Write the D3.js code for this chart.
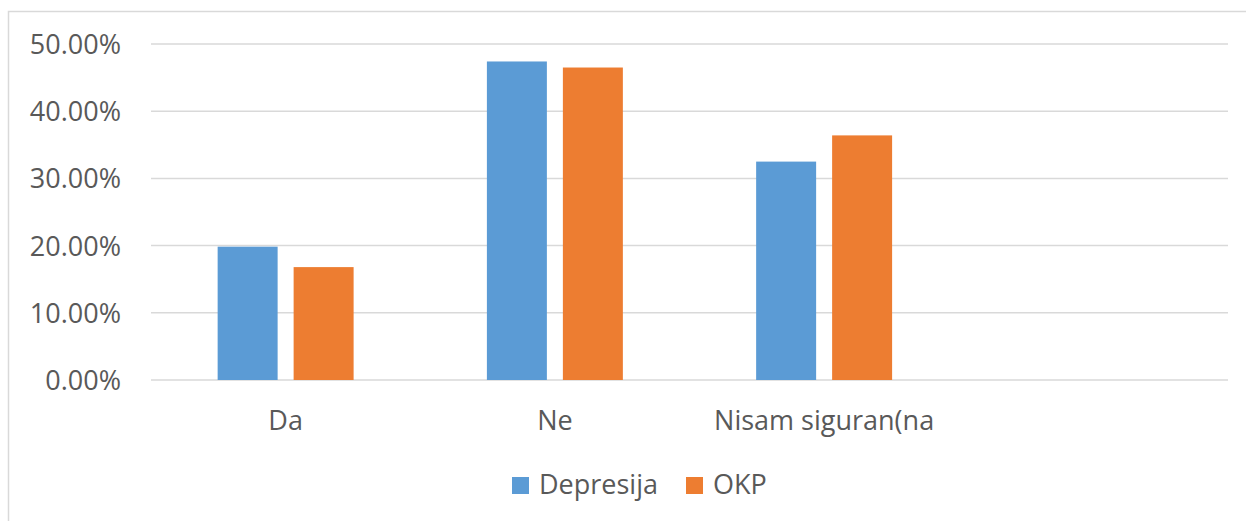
<!DOCTYPE html>
<html>
<head>
<meta charset="utf-8">
<script src="https://cdn.jsdelivr.net/npm/d3@7"></script>
<style>
  body { margin: 0; background: #fff; }
  text { font-family: "Open Sans", sans-serif; fill: #595959; }
</style>
</head>
<body>
<div class="chart"></div>
<script>
const width = 1246,
      height = 521;

// data
const categories = ["Da", "Ne", "Nisam siguran(na", ""];
const seriesNames = ["Depresija", "OKP"];
const depresija = [0.1984, 0.474, 0.325, null];
const okp = [0.168, 0.465, 0.364, null];
const yTicks = [0, 0.1, 0.2, 0.3, 0.4, 0.5];
const colors = ["#5b9bd5", "#ed7d31"];

const values = [depresija, okp];

const svg = d3.select(".chart")
              .append("svg")
              .attr("width", width)
              .attr("height", height);

// chart frame
svg.append("rect")
   .attr("x", 8.5).attr("y", 11.5)
   .attr("width", 1250).attr("height", 520)
   .attr("fill", "none")
   .attr("stroke", "#d9d9d9")
   .attr("stroke-width", 1.5);

const x = d3.scaleBand()
            .domain(categories)
            .range([151, 1228])
            .paddingInner(0.495)
            .paddingOuter(0.2475);

const xs = d3.scaleBand()
             .domain(seriesNames)
             .range([0, x.bandwidth()])
             .paddingInner(16 / 76);

const y = d3.scaleLinear()
            .domain([0, 0.5])
            .range([380, 44]);

// gridlines
svg.append("g").selectAll("line")
   .data(yTicks)
   .enter().append("line")
   .attr("x1", 151).attr("x2", 1228)
   .attr("y1", d => y(d)).attr("y2", d => y(d))
   .attr("stroke", "#d9d9d9")
   .attr("stroke-width", 1.5);

// y labels
svg.append("g").selectAll("text")
   .data(yTicks)
   .enter().append("text")
   .attr("x", 121)
   .attr("y", d => y(d) + 10)
   .attr("text-anchor", "end")
   .style("font-size", "27px")
   .text(d => d3.format(".2%")(d));

// bars
seriesNames.forEach(function(s, i) {
    svg.append("g").selectAll("rect")
       .data(categories.map((c, j) => ({c: c, v: values[i][j]})).filter(d => d.v != null))
       .enter().append("rect")
       .attr("x", d => x(d.c) + xs(s))
       .attr("y", d => y(d.v))
       .attr("width", xs.bandwidth())
       .attr("height", d => y(0) - y(d.v))
       .attr("fill", colors[i]);
});

// x labels
svg.append("g").selectAll("text")
   .data(categories)
   .enter().append("text")
   .attr("x", d => x(d) + x.bandwidth() / 2)
   .attr("y", 430)
   .attr("text-anchor", "middle")
   .style("font-size", "27px")
   .text(d => d);

// legend
const legendX = [512, 686];
const legend = svg.append("g").selectAll("g")
   .data(seriesNames)
   .enter().append("g")
   .attr("transform", (d, i) => "translate(" + legendX[i] + ",477)");

legend.append("rect")
      .attr("width", 17).attr("height", 17)
      .attr("fill", (d, i) => colors[i]);

legend.append("text")
      .attr("x", 27).attr("y", 17)
      .style("font-size", "27px")
      .text(d => d);
</script>
</body>
</html>
